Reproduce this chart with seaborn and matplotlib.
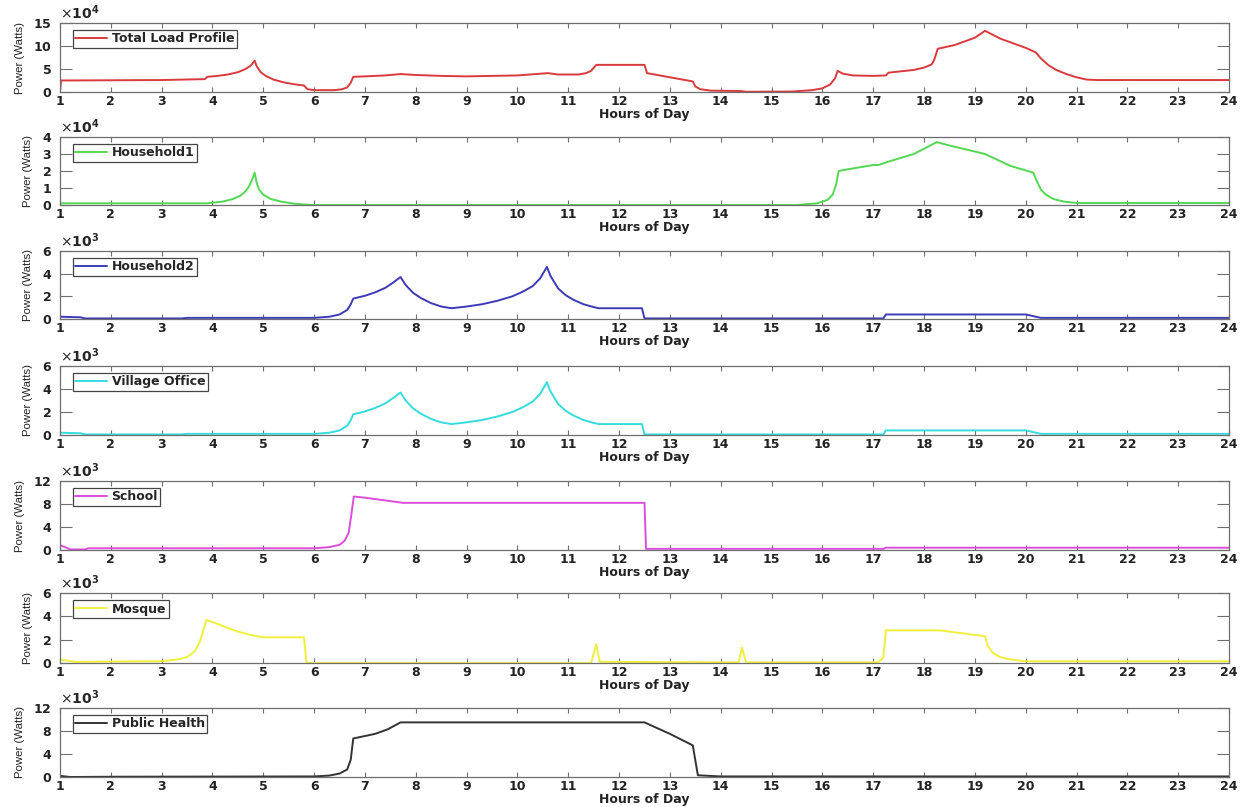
import numpy as np
import pandas as pd
import seaborn as sns
import matplotlib.pyplot as plt

# hours / values (values in the panel's display unit)
total_hours = [1.0, 1.02, 3.0, 3.85, 3.9, 4.1, 4.3, 4.5, 4.65, 4.75, 4.83, 4.87, 4.95, 5.05, 5.2,
               5.4, 5.6, 5.8, 5.87, 6.0, 6.4, 6.55, 6.65, 6.72, 6.77, 7.0, 7.4, 7.7, 8.0, 8.5, 9.0,
               10.0, 10.6, 10.8, 11.2, 11.35, 11.45, 11.55, 12.5, 12.55, 13.0, 13.45, 13.5, 13.6,
               13.8, 14.4, 14.5, 15.4, 15.8, 16.0, 16.15, 16.25, 16.3, 16.4, 16.6, 17.0, 17.25, 17.3,
               17.8, 18.0, 18.15, 18.2, 18.27, 18.6, 19.0, 19.2, 19.5, 20.0, 20.2, 20.3, 20.45, 20.6,
               20.8, 21.0, 21.2, 21.4, 24.0]
total_vals = [0.0, 2.5, 2.6, 2.8, 3.3, 3.5, 3.8, 4.3, 5.0, 5.7, 6.8, 5.6, 4.3, 3.5, 2.7,
              2.1, 1.7, 1.4, 0.6, 0.4, 0.4, 0.6, 1.0, 2.0, 3.3, 3.4, 3.6, 3.9, 3.7, 3.5, 3.4,
              3.6, 4.1, 3.8, 3.8, 4.1, 4.6, 5.9, 5.9, 4.1, 3.2, 2.3, 1.2, 0.6,
              0.3, 0.2, 0.05, 0.1, 0.4, 0.8, 1.6, 3.0, 4.6, 4.0, 3.6, 3.5, 3.6, 4.2,
              4.8, 5.3, 6.0, 7.0, 9.4, 10.2, 11.8, 13.3, 11.6, 9.6, 8.6, 7.3, 5.8, 4.8,
              3.9, 3.2, 2.7, 2.6, 2.6]

hh1_hours = [1.0, 3.9, 4.2, 4.4, 4.55, 4.65, 4.72, 4.78, 4.83, 4.87, 4.92, 5.0, 5.15, 5.35, 5.6,
             5.8, 6.0, 15.5, 15.9, 16.1, 16.2, 16.27, 16.32, 16.5, 17.0, 17.1, 17.3, 17.8, 18.25,
             18.5, 19.2, 19.7, 20.15, 20.22, 20.3, 20.4, 20.55, 20.75, 21.0, 24.0]
hh1_vals = [0.1, 0.1, 0.2, 0.35, 0.55, 0.8, 1.1, 1.5, 1.9, 1.3, 0.9, 0.6, 0.35, 0.2, 0.08,
            0.03, 0.0, 0.0, 0.1, 0.3, 0.6, 1.2, 2.0, 2.1, 2.35, 2.35, 2.55, 3.0, 3.7,
            3.5, 3.0, 2.3, 1.9, 1.4, 0.9, 0.6, 0.35, 0.2, 0.12, 0.12]

hh2_hours = [1.0, 1.4, 1.5, 3.4, 3.5, 6.0, 6.3, 6.5, 6.65, 6.72, 6.77, 7.0, 7.2, 7.4, 7.55, 7.7,
             7.8, 7.95, 8.1, 8.3, 8.5, 8.7, 9.0, 9.3, 9.6, 9.9, 10.1, 10.3, 10.45, 10.58, 10.65,
             10.8, 10.95, 11.1, 11.3, 11.5, 11.6, 12.45, 12.5, 17.2, 17.25, 20.0, 20.3, 24.0]
hh2_vals = [0.2, 0.15, 0.05, 0.05, 0.1, 0.1, 0.2, 0.4, 0.8, 1.3, 1.8, 2.05, 2.35, 2.75, 3.2, 3.7,
            3.0, 2.3, 1.85, 1.4, 1.1, 0.95, 1.1, 1.3, 1.6, 2.0, 2.4, 2.9, 3.6, 4.6, 3.8,
            2.7, 2.1, 1.7, 1.3, 1.05, 0.95, 0.95, 0.05, 0.05, 0.4, 0.4, 0.1, 0.1]

office_hours = [1.0, 1.4, 1.5, 3.4, 3.5, 6.0, 6.3, 6.5, 6.65, 6.72, 6.77, 7.0, 7.2, 7.4, 7.55, 7.7,
                7.8, 7.95, 8.1, 8.3, 8.5, 8.7, 9.0, 9.3, 9.6, 9.9, 10.1, 10.3, 10.45, 10.58, 10.65,
                10.8, 10.95, 11.1, 11.3, 11.5, 11.6, 12.45, 12.5, 17.2, 17.25, 20.0, 20.3, 24.0]
office_vals = [0.2, 0.15, 0.05, 0.05, 0.1, 0.1, 0.2, 0.4, 0.8, 1.3, 1.8, 2.05, 2.35, 2.75, 3.2, 3.7,
               3.0, 2.3, 1.85, 1.4, 1.1, 0.95, 1.1, 1.3, 1.6, 2.0, 2.4, 2.9, 3.6, 4.6, 3.8,
               2.7, 2.1, 1.7, 1.3, 1.05, 0.95, 0.95, 0.05, 0.05, 0.4, 0.4, 0.1, 0.1]

school_hours = [1.0, 1.1, 1.2, 1.5, 1.55, 6.0, 6.3, 6.5, 6.6, 6.68, 6.73, 6.78, 7.0, 7.75, 12.5,
                12.53, 17.2, 17.25, 24.0]
school_vals = [0.8, 0.5, 0.1, 0.1, 0.3, 0.3, 0.5, 0.9, 1.6, 3.0, 6.0, 9.3, 9.1, 8.2, 8.2,
               0.2, 0.2, 0.4, 0.4]

mosque_hours = [1.0, 1.3, 3.0, 3.3, 3.5, 3.65, 3.75, 3.82, 3.88, 4.1, 4.3, 4.5, 4.75, 5.0, 5.8,
                5.85, 11.45, 11.55, 11.62, 14.35, 14.42, 14.5, 17.1, 17.2, 17.25, 18.3, 19.2,
                19.25, 19.35, 19.5, 19.7, 20.0, 24.0]
mosque_vals = [0.3, 0.1, 0.15, 0.3, 0.5, 1.0, 1.8, 2.8, 3.7, 3.35, 3.0, 2.7, 2.4, 2.2, 2.2,
               0.0, 0.0, 1.6, 0.1, 0.05, 1.3, 0.05, 0.05, 0.5, 2.8, 2.8, 2.3,
               1.5, 0.9, 0.5, 0.3, 0.15, 0.15]

health_hours = [1.0, 1.2, 2.1, 6.0, 6.3, 6.5, 6.65, 6.72, 6.77, 7.2, 7.45, 7.7, 12.5, 13.0, 13.45,
                13.55, 14.0, 24.0]
health_vals = [0.2, 0.0, 0.05, 0.1, 0.25, 0.6, 1.3, 3.0, 6.7, 7.5, 8.3, 9.5, 9.5, 7.5, 5.5,
               0.3, 0.1, 0.1]

names = ["Total Load Profile", "Household1", "Household2", "Village Office",
         "School", "Mosque", "Public Health"]
hours = [total_hours, hh1_hours, hh2_hours, office_hours, school_hours, mosque_hours, health_hours]
values = [total_vals, hh1_vals, hh2_vals, office_vals, school_vals, mosque_vals, health_vals]
exponents = [4, 4, 3, 3, 3, 3, 3]
y_max = [15, 4, 6, 6, 12, 6, 12]
y_step = [5, 1, 2, 2, 4, 2, 4]
colors = ["#d93a3d", "#52d852", "#3b3bb8", "#35dcdc", "#dc4ddc", "#f0f03c", "#333333"]

sns.set_style("white")
plt.rcParams['font.family'] = ['DejaVu Sans']

fig = plt.figure(figsize=(12.45, 8.07), dpi=100)
W, H = 1245, 807
tops = [23, 137, 251, 366, 481, 593, 708]
bottoms = [92, 205, 319, 435, 550, 663, 777]
spine_col = "#6e6e6e"

for i, name in enumerate(names):
    ax = fig.add_axes([60 / W, 1 - bottoms[i] / H, 1169 / W, (bottoms[i] - tops[i]) / H])
    scale = 10 ** exponents[i]
    df = pd.DataFrame({"hour": hours[i], "power": np.array(values[i]) * scale})
    sns.lineplot(data=df, x="hour", y="power", ax=ax, color=colors[i], linewidth=1.4,
                 estimator=None, label=name)

    ax.set_xlim(1, 24)
    ax.set_ylim(0, y_max[i] * scale)
    ax.set_xticks(range(1, 25))
    ax.set_yticks(np.arange(0, y_max[i] + 1, y_step[i]) * scale)
    ax.ticklabel_format(axis='y', style='sci', scilimits=(exponents[i], exponents[i]), useMathText=True)
    ax.yaxis.get_offset_text().set_fontsize(10)
    ax.yaxis.get_offset_text().set_fontweight('bold')

    for sp in ax.spines.values():
        sp.set_color(spine_col)
        sp.set_linewidth(0.9)
    ax.tick_params(axis='x', direction='in', length=3.5, width=0.8, color=spine_col,
                   top=True, bottom=True, pad=2.5, labelsize=9)
    ax.tick_params(axis='y', direction='in', length=8.5, width=0.8, color=spine_col,
                   left=True, right=True, pad=6, labelsize=9)
    for lab in ax.get_xticklabels() + ax.get_yticklabels():
        lab.set_fontweight('bold')
        lab.set_color('#222222')

    ax.set_xlabel("Hours of Day", fontsize=9, fontweight='bold', labelpad=0, color='#222222')
    ax.set_ylabel("Power (Watts)", fontsize=8.2, family=['Liberation Sans', 'DejaVu Sans'],
                  labelpad=6, color='#222222')

    leg = ax.legend(loc='upper left', bbox_to_anchor=(0.011, 0.9), borderaxespad=0,
                    frameon=True, fancybox=False, framealpha=1, handlelength=2.5,
                    handletextpad=0.4, borderpad=0.2, prop={'size': 9, 'weight': 'bold'})
    leg.get_frame().set_edgecolor('#444444')
    leg.get_frame().set_linewidth(0.9)

fig.savefig("out.png", dpi=100)
